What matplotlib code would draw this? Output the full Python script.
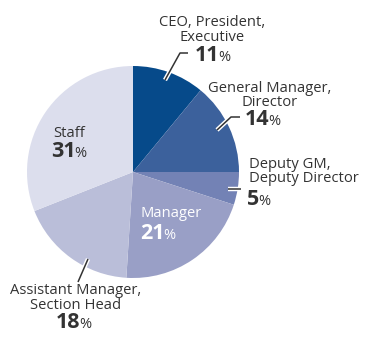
import matplotlib
matplotlib.use("Agg")
import matplotlib.pyplot as plt
import matplotlib.patheffects as pe

categories = ["CEO, President,\nExecutive", "General Manager,\nDirector",
              "Deputy GM,\nDeputy Director", "Manager", "Staff",
              "Assistant Manager,\nSection Head"]
order_labels = ["CEO", "GM", "Deputy", "Manager", "Assistant", "Staff"]
values = [11, 14, 5, 21, 18, 31]
colors = ["#064a8a", "#3c619c", "#7382b5", "#999fc6", "#babed9", "#dcdeed"]

H = 337
def Y(p):
    return H - p

fig = plt.figure(figsize=(3.75, 3.37), dpi=100)
ax = fig.add_axes([0, 0, 1, 1])

ax.pie(values, colors=colors, startangle=90, counterclock=False,
       center=(133, Y(172)), radius=106, frame=True,
       wedgeprops=dict(linewidth=0))
ax.set_xlim(0, 375)
ax.set_ylim(0, H)
ax.axis("off")

FONT = "Open Sans"
txtc = "#333333"

label_specs = {
    "CEO": ("CEO, President,\nExecutive", 212, 41, "center", txtc),
    "GM": ("General Manager,\nDirector", 270, 106, "center", txtc),
    "Deputy": ("Deputy GM,\nDeputy Director", 249, 182, "left", txtc),
    "Manager": ("Manager", 141, 217, "left", "white"),
    "Staff": ("Staff", 69, 137, "center", txtc),
    "Assistant": ("Assistant Manager,\nSection Head", 76, 309, "center", txtc),
}
pct_specs = {
    "CEO": (219, 61),
    "GM": (269.5, 125),
    "Deputy": (259, 205),
    "Manager": (164.5, 239),
    "Staff": (75.5, 157),
    "Assistant": (80, 328),
}

for key, v in zip(order_labels, values):
    t, x, yb, ha, c = label_specs[key]
    lines = t.split("\n")
    for i, line in enumerate(reversed(lines)):
        ax.text(x, Y(yb - 14.5 * i), line, ha=ha, va="baseline",
                fontsize=10.6, family=FONT, color=c)
    sx, sy = pct_specs[key]
    ax.text(sx, Y(sy), str(v), ha="right", va="baseline", fontsize=15.5,
            fontweight="bold", family=FONT, color=c)
    ax.text(sx - 1.0, Y(sy), "%", ha="left", va="baseline", fontsize=10.5,
            family=FONT, color=c)

leaders = [
    [(165, 80), (180, 53), (188, 53)],
    [(217, 130), (231, 117), (240, 117)],
    [(228, 189), (241, 189)],
    [(88, 259), (78, 282)],
]
for pts in leaders:
    xs = [p[0] for p in pts]
    ys = [Y(p[1]) for p in pts]
    ax.plot(xs, ys, color="#333333", lw=1.1, solid_capstyle="butt",
            path_effects=[pe.Stroke(linewidth=3.2, foreground="white"), pe.Normal()])

fig.savefig("out.png", dpi=100)
